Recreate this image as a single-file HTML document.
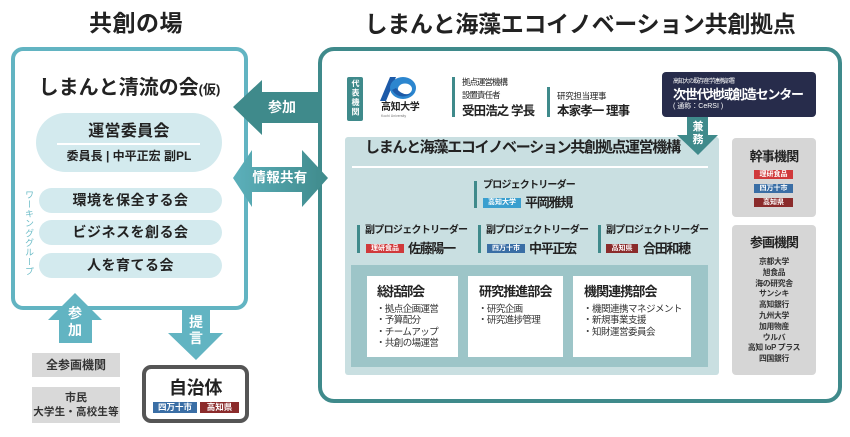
<!DOCTYPE html>
<html><head><meta charset="utf-8">
<style>
*{margin:0;padding:0;box-sizing:border-box}
html,body{width:850px;height:437px;overflow:hidden;background:#fff}
body{position:relative;font-family:"Liberation Sans","Noto Sans CJK JP",sans-serif;color:#222}
.a{position:absolute;white-space:nowrap}
.c{text-align:center}
.b{font-weight:bold}
.tag{position:absolute;color:#fff;font-weight:bold;text-align:center;white-space:nowrap}
.vt{writing-mode:vertical-rl;text-orientation:upright}
</style></head><body>

<!-- Titles -->
<div class="a c b" style="left:0;width:272px;top:9px;line-height:28px;font-size:23px;letter-spacing:0.5px;">共創の場</div>
<div class="a c b" style="left:318px;width:524px;top:10px;line-height:28px;font-size:23px;letter-spacing:-0.3px;">しまんと海藻エコイノベーション共創拠点</div>

<!-- Left box -->
<div class="a" style="left:11px;top:47px;width:237px;height:263px;border:4px solid #62b4c2;border-radius:12px;"></div>
<div class="a c b" style="left:11px;width:237px;top:76px;line-height:24px;font-size:20px;">しまんと清流の会<span style="font-size:13px;">(仮)</span></div>

<div class="a" style="left:36px;top:113px;width:186px;height:59px;border-radius:30px;background:#d3eaee;"></div>
<div class="a c b" style="left:36px;width:186px;top:121px;line-height:22px;font-size:16px;letter-spacing:0.3px;">運営委員会</div>
<div class="a" style="left:57px;top:143px;width:143px;height:1.5px;background:#fff;"></div>
<div class="a c b" style="left:36px;width:186px;top:148px;line-height:16px;font-size:12px;">委員長 | 中平正宏 副PL</div>

<div class="a" style="left:39px;top:188px;width:183px;height:25px;border-radius:13px;background:#d3eaee;"></div>
<div class="a c b" style="left:39px;width:183px;top:188px;line-height:25px;font-size:14px;letter-spacing:0.5px;">環境を保全する会</div>
<div class="a" style="left:39px;top:220px;width:183px;height:25px;border-radius:13px;background:#d3eaee;"></div>
<div class="a c b" style="left:39px;width:183px;top:220px;line-height:25px;font-size:14px;letter-spacing:0.5px;">ビジネスを創る会</div>
<div class="a" style="left:39px;top:253px;width:183px;height:25px;border-radius:13px;background:#d3eaee;"></div>
<div class="a c b" style="left:39px;width:183px;top:253px;line-height:25px;font-size:14px;letter-spacing:0.5px;">人を育てる会</div>

<div class="a vt" style="left:23px;top:190px;width:11px;height:90px;font-size:9px;line-height:11px;color:#6cbcc7;letter-spacing:0.6px;">ワーキンググループ</div>

<!-- Bottom-left boxes -->
<div class="a c b" style="left:32px;top:353px;width:88px;height:24px;background:#d9d9d9;line-height:24px;font-size:12px;color:#333;">全参画機関</div>
<div class="a" style="left:32px;top:387px;width:88px;height:36px;background:#d9d9d9;"></div>
<div class="a c b" style="left:32px;width:88px;top:391px;line-height:14px;font-size:11px;color:#333;">市民</div>
<div class="a c b" style="left:32px;width:88px;top:405px;line-height:14px;font-size:10.5px;color:#333;letter-spacing:0.2px;">大学生・高校生等</div>

<div class="a" style="left:142px;top:365px;width:107px;height:58px;border:4px solid #555;border-radius:9px;"></div>
<div class="a c b" style="left:142px;width:107px;top:376px;line-height:24px;font-size:18px;letter-spacing:-0.3px;">自治体</div>
<div class="tag" style="left:153px;top:402px;width:44px;height:11px;background:#3a6ea5;font-size:8.5px;line-height:11px;">四万十市</div>
<div class="tag" style="left:200px;top:402px;width:39px;height:11px;background:#8b2b2b;font-size:8.5px;line-height:11px;">高知県</div>

<!-- Right box -->
<div class="a" style="left:318px;top:47px;width:524px;height:356px;border:4px solid #3f8a8b;border-radius:16px;"></div>

<!-- 代表機関 -->
<div class="a" style="left:347px;top:77px;width:16px;height:44px;background:#3f8a8b;border-radius:2px;"></div>
<div class="a vt b" style="left:350px;top:79px;width:10px;height:42px;font-size:8px;line-height:10px;color:#fff;letter-spacing:1.5px;">代表機関</div>

<!-- Logo -->
<svg class="a" style="left:376px;top:74px;" width="44" height="30" viewBox="0 0 44 30">
  <path d="M4 27 L14 3 L20 3 L10 27 Z" fill="#1d5aa8"/>
  <ellipse cx="27" cy="14" rx="13" ry="11" fill="#2c86cf"/>
  <ellipse cx="29" cy="15" rx="7" ry="5.5" fill="#fff"/>
  <path d="M16 16 Q24 28 38 18 Q28 24 20 14 Z" fill="#1d5aa8"/>
</svg>
<div class="a b" style="left:381px;top:102px;line-height:12px;font-size:10px;letter-spacing:-0.4px;">高知大学</div>
<div class="a" style="left:381px;top:114px;line-height:4px;font-size:3.5px;color:#777;">Kochi University</div>

<!-- Top row people -->
<div class="a" style="left:452px;top:77px;width:3px;height:40px;background:#3f8a8b;"></div>
<div class="a" style="left:462px;top:77px;line-height:11px;font-size:8.5px;letter-spacing:-1px;">拠点運営機構</div>
<div class="a" style="left:462px;top:90px;line-height:11px;font-size:8.5px;letter-spacing:-1px;">設置責任者</div>
<div class="a b" style="left:462px;top:103px;line-height:16px;font-size:12.5px;letter-spacing:-0.9px;">受田浩之 学長</div>

<div class="a" style="left:547px;top:87px;width:3px;height:30px;background:#3f8a8b;"></div>
<div class="a" style="left:557px;top:91px;line-height:11px;font-size:8.5px;letter-spacing:-0.3px;">研究担当理事</div>
<div class="a b" style="left:557px;top:103px;line-height:16px;font-size:12.5px;letter-spacing:-0.9px;">本家孝一 理事</div>

<!-- CeRSI -->
<div class="a" style="left:662px;top:72px;width:154px;height:45px;background:#272c4b;border-radius:4px;"></div>
<div class="a" style="left:673px;top:78px;line-height:8px;font-size:6px;color:#fff;letter-spacing:-0.9px;">高知大の既存産学連携部署</div>
<div class="a b" style="left:673px;top:87px;line-height:16px;font-size:13px;color:#fff;letter-spacing:-1.2px;">次世代地域創造センター</div>
<div class="a" style="left:673px;top:103px;line-height:8px;font-size:7px;color:#fff;">( 通称：CeRSI )</div>

<!-- Panel -->
<div class="a" style="left:345px;top:137px;width:374px;height:238px;background:#c9dfe1;border-radius:3px;"></div>
<div class="a b" style="left:365px;top:139px;line-height:18px;font-size:15px;letter-spacing:-1.3px;">しまんと海藻エコイノベーション共創拠点運営機構</div>
<div class="a" style="left:352px;top:166px;width:356px;height:2px;background:#fff;"></div>

<!-- PL -->
<div class="a" style="left:474px;top:181px;width:3px;height:27px;background:#3f8a8b;"></div>
<div class="a b" style="left:483px;top:180px;line-height:12px;font-size:10px;letter-spacing:-0.8px;">プロジェクトリーダー</div>
<div class="tag" style="left:483px;top:198px;width:38px;height:10px;background:#3a9fcf;font-size:7px;line-height:10px;">高知大学</div>
<div class="a b" style="left:525px;top:195px;line-height:16px;font-size:13px;letter-spacing:-1.2px;">平岡雅規</div>

<!-- Sub PLs -->
<div class="a" style="left:357px;top:225px;width:3px;height:28px;background:#3f8a8b;"></div>
<div class="a b" style="left:365px;top:225px;line-height:12px;font-size:10px;letter-spacing:-0.7px;">副プロジェクトリーダー</div>
<div class="tag" style="left:366px;top:244px;width:38px;height:9px;background:#d0393b;font-size:7px;line-height:9px;">理研食品</div>
<div class="a b" style="left:408px;top:241px;line-height:16px;font-size:13px;letter-spacing:-1.3px;">佐藤陽一</div>

<div class="a" style="left:478px;top:225px;width:3px;height:28px;background:#3f8a8b;"></div>
<div class="a b" style="left:486px;top:225px;line-height:12px;font-size:10px;letter-spacing:-0.7px;">副プロジェクトリーダー</div>
<div class="tag" style="left:487px;top:244px;width:38px;height:9px;background:#3a6ea5;font-size:7px;line-height:9px;">四万十市</div>
<div class="a b" style="left:529px;top:241px;line-height:16px;font-size:13px;letter-spacing:-1.3px;">中平正宏</div>

<div class="a" style="left:598px;top:225px;width:3px;height:28px;background:#3f8a8b;"></div>
<div class="a b" style="left:606px;top:225px;line-height:12px;font-size:10px;letter-spacing:-0.7px;">副プロジェクトリーダー</div>
<div class="tag" style="left:606px;top:244px;width:32px;height:9px;background:#8b2b2b;font-size:7px;line-height:9px;">高知県</div>
<div class="a b" style="left:643px;top:241px;line-height:16px;font-size:13px;letter-spacing:-1.3px;">合田和穂</div>

<!-- Committees -->
<div class="a" style="left:351px;top:265px;width:357px;height:102px;background:#9dc5c8;"></div>
<div class="a" style="left:367px;top:276px;width:91px;height:81px;background:#fff;"></div>
<div class="a" style="left:468px;top:276px;width:95px;height:81px;background:#fff;"></div>
<div class="a" style="left:573px;top:276px;width:118px;height:81px;background:#fff;"></div>

<div class="a b" style="left:377px;top:284px;line-height:16px;font-size:13px;letter-spacing:-1.3px;">総括部会</div>
<div class="a" style="left:376px;top:304px;line-height:11.3px;font-size:9.5px;letter-spacing:-0.6px;color:#333;">・拠点企画運営<br>・予算配分<br>・チームアップ<br>・共創の場運営</div>

<div class="a b" style="left:479px;top:284px;line-height:16px;font-size:13px;letter-spacing:-0.9px;">研究推進部会</div>
<div class="a" style="left:478px;top:304px;line-height:11.3px;font-size:9.5px;letter-spacing:-0.6px;color:#333;">・研究企画<br>・研究進捗管理</div>

<div class="a b" style="left:584px;top:284px;line-height:16px;font-size:13px;letter-spacing:-0.9px;">機関連携部会</div>
<div class="a" style="left:583px;top:304px;line-height:11.3px;font-size:9.5px;letter-spacing:-0.5px;color:#333;">・機関連携マネジメント<br>・新規事業支援<br>・知財運営委員会</div>

<!-- Right gray boxes -->
<div class="a" style="left:732px;top:138px;width:84px;height:79px;background:#d6d6d6;border-radius:4px;"></div>
<div class="a c b" style="left:732px;width:84px;top:149px;line-height:16px;font-size:13px;letter-spacing:-0.8px;">幹事機関</div>
<div class="tag" style="left:754px;top:170px;width:39px;height:9px;background:#d0393b;font-size:7px;line-height:9px;">理研食品</div>
<div class="tag" style="left:754px;top:184px;width:39px;height:9px;background:#3a6ea5;font-size:7px;line-height:9px;">四万十市</div>
<div class="tag" style="left:754px;top:198px;width:39px;height:9px;background:#8b2b2b;font-size:7px;line-height:9px;">高知県</div>

<div class="a" style="left:732px;top:225px;width:84px;height:150px;background:#d6d6d6;border-radius:4px;"></div>
<div class="a c b" style="left:732px;width:84px;top:235px;line-height:16px;font-size:13px;letter-spacing:-1px;">参画機関</div>
<div class="a c b" style="left:732px;width:84px;top:257px;line-height:10.8px;font-size:7.8px;color:#333;letter-spacing:-0.3px;">京都大学<br>旭食品<br>海の研究舎<br>サンシキ<br>高知銀行<br>九州大学<br>加用物産<br>ウルバ<br>高知 IoP プラス<br>四国銀行</div>

<!-- Arrows -->
<svg class="a" style="left:0;top:0;" width="850" height="437" viewBox="0 0 850 437">
  <defs>
    <linearGradient id="g1" x1="0" x2="1" y1="0" y2="0">
      <stop offset="0" stop-color="#5cb0bb"/>
      <stop offset="1" stop-color="#3f8a8b"/>
    </linearGradient>
  </defs>
  <polygon points="233,107 262,80 262,92 318,92 318,123 262,123 262,135" fill="#3f8a8b"/>
  <polygon points="233,178 252,150 252,167 302,167 302,150 328,178 302,207 302,192 252,192 252,207" fill="url(#g1)"/>
  <polygon points="75,293 102,320 92,320 92,343 59,343 59,320 48,320" fill="#62b4c2"/>
  <polygon points="182,310 210,310 210,333 223,333 196,360 168,333 182,333" fill="#62b4c2"/>
  <polygon points="687,117 708,117 708,135 718,135 698,155 677,135 687,135" fill="#3f8a8b"/>
</svg>

<div class="a c b" style="left:262px;width:40px;top:99px;line-height:16px;font-size:14px;color:#fff;">参加</div>
<div class="a c b" style="left:245px;width:70px;top:170px;line-height:16px;font-size:13.5px;color:#fff;letter-spacing:0.3px;">情報共有</div>
<div class="a c b" style="left:65px;width:20px;top:305px;line-height:17px;font-size:14px;color:#fff;">参<br>加</div>
<div class="a c b" style="left:186px;width:20px;top:314px;line-height:16px;font-size:14px;color:#fff;">提<br>言</div>
<div class="a c b" style="left:688px;width:20px;top:121px;line-height:13px;font-size:11px;color:#fff;">兼<br>務</div>

</body></html>
